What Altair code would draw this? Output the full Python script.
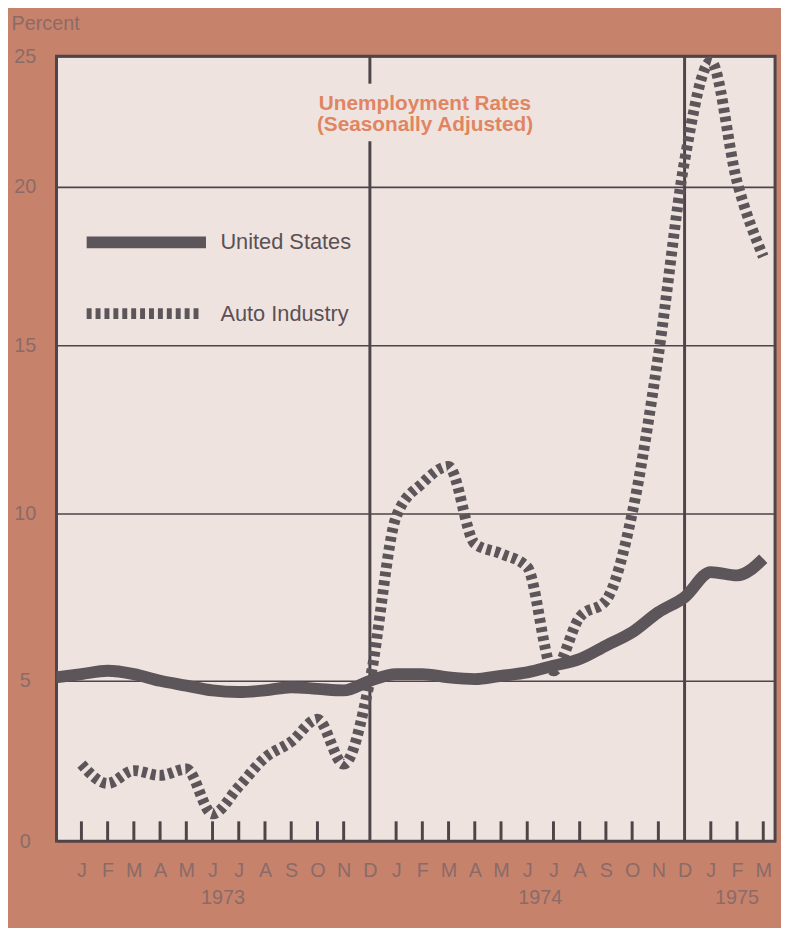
import altair as alt
import pandas as pd

# ---------------- data ----------------
LETTERS = list("JFMAMJJASOND") + list("JFMAMJJASOND") + list("JFM")   # Jan 1973 .. Mar 1975
YEARS = ["1973", "1974", "1975"]
YEAR_POS = [5.4, 17.5, 25.0]

# month index: 0 = Jan 1973 ... 26 = Mar 1975 (US series starts Dec 1972 = -1)
US_MONTHS = list(range(-1, 27))
US_RATE = [5.1,
           5.2, 5.3, 5.2, 5.0, 4.85, 4.7, 4.65, 4.7, 4.8, 4.75, 4.7, 5.0,
           5.2, 5.2, 5.1, 5.05, 5.15, 5.25, 5.45, 5.65, 6.05, 6.45, 7.05, 7.5,
           8.25, 8.15, 8.65]

AUTO_MONTHS = list(range(0, 27))
AUTO_RATE = [2.4, 1.8, 2.2, 2.05, 2.25, 0.85, 1.7, 2.6, 3.1, 3.8, 2.4, 5.0,
             9.9, 10.9, 11.4, 9.1, 8.8, 8.4, 5.3, 6.9, 7.4, 10.0, 14.7, 21.0,
             24.8, 20.2, 17.8]

Y_TICKS = [0, 5, 10, 15, 20, 25]

DIVIDER_X = [11, 11, 23]          # Dec 1973 (split around the title), Dec 1974
DIVIDER_Y0 = [0, 23.95, 0]
DIVIDER_Y1 = [21.75, 25, 25]

LEGEND_LABELS = ["United States", "Auto Industry"]
LEGEND_Y = [18.25, 16.0]
LEGEND_X0 = [0.2, 0.2]
LEGEND_X1 = [4.75, 4.6]
LEGEND_TEXT_X = 5.3

TITLE_LINES = ["Unemployment Rates", "(Seasonally Adjusted)"]
TITLE_X = 13.1
TITLE_Y = [23.18, 22.35]

# ---------------- style ----------------
BG = "#c7826c"
PLOT_BG = "#efe3e0"
INK = "#5c5559"
FRAME = "#4e4548"
AXIS_TXT = "#8a6b67"
ORANGE = "#e08562"
FONT = "Liberation Sans"
W, H = 726, 793

us_df = pd.DataFrame({"t": US_MONTHS, "rate": US_RATE})
auto_df = pd.DataFrame({"t": AUTO_MONTHS, "rate": AUTO_RATE})
tick_df = pd.DataFrame({"t": [i for i, c in enumerate(LETTERS) if c != "D"]})
div_df = pd.DataFrame({"t": DIVIDER_X, "rate": DIVIDER_Y0, "rate2": DIVIDER_Y1})
leg_line_df = pd.DataFrame({
    "series": LEGEND_LABELS * 2,
    "t": LEGEND_X0 + LEGEND_X1,
    "rate": LEGEND_Y * 2,
})
leg_txt_df = pd.DataFrame({"label": LEGEND_LABELS, "rate": LEGEND_Y, "t": [LEGEND_TEXT_X] * 2})
title_df = pd.DataFrame({"line": TITLE_LINES, "rate": TITLE_Y, "t": [TITLE_X] * 2})
year_df = pd.DataFrame({"year": YEARS, "t": YEAR_POS})

xs = alt.Scale(domain=[-0.95, 26.45], nice=False, zero=False)
ys = alt.Scale(domain=Y_TICKS, range=[793, 631, 462, 292, 132, 0], nice=False, zero=False)

label_expr = "[" + ",".join("'%s'" % c for c in LETTERS) + "][datum.value]"

x_axis = alt.Axis(values=list(range(len(LETTERS))), labelExpr=label_expr, ticks=False,
                  domain=False, grid=False, labelFont=FONT, labelFontSize=20,
                  labelColor=AXIS_TXT, labelPadding=30, labelBaseline="middle",
                  labelFlush=False, labelOverlap=False, title=None)
y_axis = alt.Axis(values=Y_TICKS, grid=True, gridColor=FRAME, gridWidth=1.6, ticks=False,
                  domain=False, labelAlign="center", labelBaseline="middle", labelPadding=32,
                  labelFont=FONT, labelFontSize=20, labelColor=AXIS_TXT,
                  title="Percent", titleAngle=0, titleAlign="left", titleBaseline="middle",
                  titleX=-46, titleY=-33, titleFont=FONT, titleFontSize=20,
                  titleFontWeight="normal", titleColor=AXIS_TXT)

X = alt.X("t:Q", scale=xs, axis=x_axis)
Y = alt.Y("rate:Q", scale=ys, axis=y_axis)

dividers = alt.Chart(div_df).mark_rule(color=FRAME, strokeWidth=3).encode(
    x=X, y=Y, y2="rate2:Q",
)

ticks = alt.Chart(tick_df).mark_rule(color=FRAME, strokeWidth=3).encode(
    x=X, y=alt.value(H), y2=alt.value(H - 20),
)

us_line = alt.Chart(us_df).mark_line(interpolate="monotone", strokeWidth=12, color=INK,
                                     clip=True, strokeCap="butt").encode(x=X, y=Y)

auto_line = alt.Chart(auto_df).mark_line(interpolate="monotone", strokeWidth=11, color=INK,
                                         strokeDash=[5, 4], clip=True,
                                         strokeCap="butt").encode(x=X, y=Y)

leg_solid = alt.Chart(leg_line_df).transform_filter(
    alt.datum.series == LEGEND_LABELS[0]
).mark_line(strokeWidth=12, color=INK, strokeCap="butt").encode(x=X, y=Y)

leg_dash = alt.Chart(leg_line_df).transform_filter(
    alt.datum.series == LEGEND_LABELS[1]
).mark_line(strokeWidth=11, color=INK, strokeDash=[5, 4], strokeCap="butt").encode(x=X, y=Y)

leg_text = alt.Chart(leg_txt_df).mark_text(align="left", baseline="middle", font=FONT,
                                           fontSize=22, color="#5b5154").encode(
    x=X, y=Y, text="label:N",
)

title = alt.Chart(title_df).mark_text(align="center", baseline="middle", font=FONT,
                                      fontSize=21, fontWeight="bold", color=ORANGE).encode(
    x=X, y=Y, text="line:N",
)

years = alt.Chart(year_df).mark_text(align="center", baseline="middle", font=FONT,
                                     fontSize=20, color=AXIS_TXT).encode(
    x=X, y=alt.value(H + 58), text="year:N",
)

chart = alt.layer(
    dividers, ticks, us_line, auto_line, leg_solid, leg_dash, leg_text, title, years
).properties(
    width=W, height=H,
    padding={"left": 49, "top": 44, "right": 6, "bottom": 83},
    autosize=alt.AutoSizeParams(type="none"),
    background=BG,
).configure_view(
    fill=PLOT_BG, stroke=FRAME, strokeWidth=3,
)

chart.save("out.html", embed_options={"renderer": "svg", "actions": False})
